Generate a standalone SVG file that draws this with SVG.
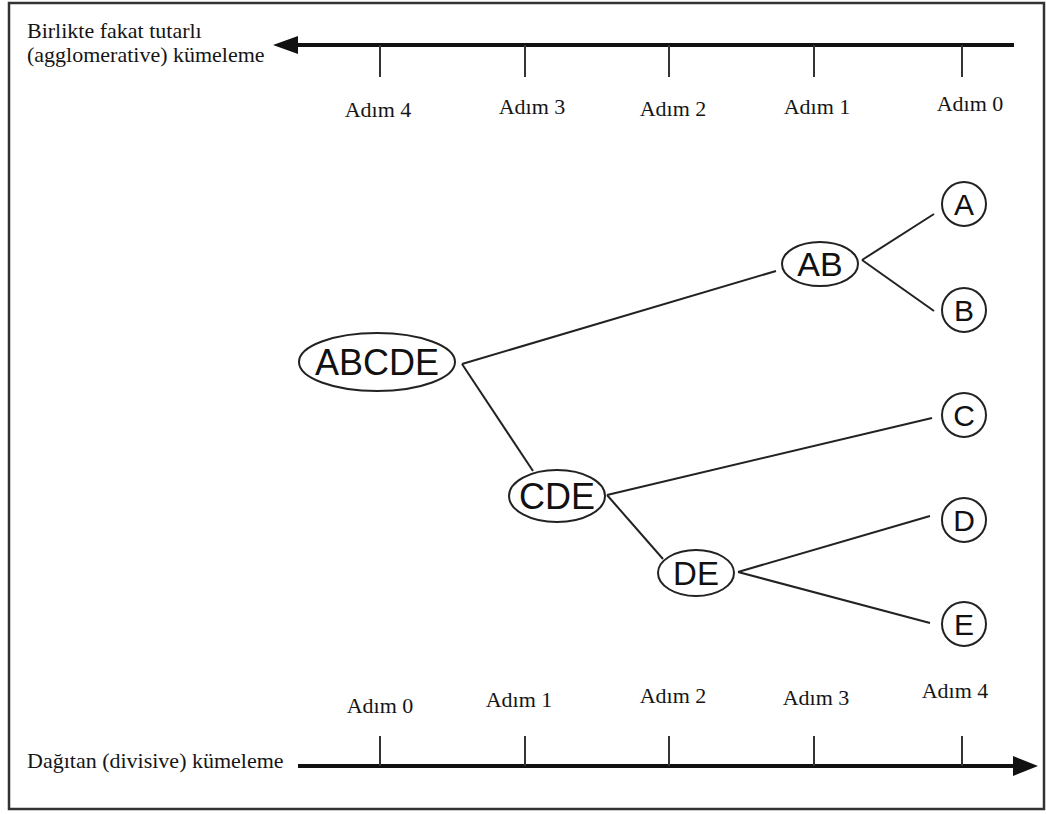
<svg xmlns="http://www.w3.org/2000/svg" width="1046" height="814" viewBox="0 0 1046 814">
<style>
.lbl{font-family:"Liberation Serif","Times New Roman",serif;font-size:22px;fill:#151515}
.step{font-family:"Liberation Serif","Times New Roman",serif;font-size:22px;fill:#151515;text-anchor:middle}
.nt{font-family:"Liberation Sans",Arial,sans-serif;fill:#111;text-anchor:middle}
.shape{fill:#fff;stroke:#222;stroke-width:2}
.edge{stroke:#222;stroke-width:2;fill:none}
.axis{stroke:#111;stroke-width:4;fill:none}
.tick{stroke:#333;stroke-width:2}
</style>
<rect x="0" y="0" width="1046" height="814" fill="#fff"/>
<rect x="9" y="3" width="1035" height="806" fill="none" stroke="#333" stroke-width="2.5"/>

<g id="top-axis">
<text class="lbl" x="27" y="38">Birlikte fakat tutarlı</text>
<text class="lbl" x="27" y="62">(agglomerative) kümeleme</text>
<line class="axis" x1="296" y1="45" x2="1014" y2="45"/>
<polygon points="273,45 298,36 298,54" fill="#111"/>
<line class="tick" x1="380" y1="45" x2="380" y2="77"/>
<line class="tick" x1="525" y1="45" x2="525" y2="77"/>
<line class="tick" x1="669" y1="45" x2="669" y2="77"/>
<line class="tick" x1="814" y1="45" x2="814" y2="77"/>
<line class="tick" x1="962" y1="45" x2="962" y2="77"/>
<text class="step" x="378" y="117">Adım 4</text>
<text class="step" x="532" y="114">Adım 3</text>
<text class="step" x="673" y="116">Adım 2</text>
<text class="step" x="817" y="114">Adım 1</text>
<text class="step" x="970" y="111">Adım 0</text>
</g>

<g id="bottom-axis">
<text class="lbl" x="27" y="768">Dağıtan (divisive) kümeleme</text>
<line class="axis" x1="298" y1="766" x2="1015" y2="766"/>
<polygon points="1038,766 1013,756 1013,776" fill="#111"/>
<line class="tick" x1="380" y1="736" x2="380" y2="766"/>
<line class="tick" x1="525" y1="736" x2="525" y2="766"/>
<line class="tick" x1="669" y1="736" x2="669" y2="766"/>
<line class="tick" x1="814" y1="736" x2="814" y2="766"/>
<line class="tick" x1="962" y1="736" x2="962" y2="766"/>
<text class="step" x="380" y="713">Adım 0</text>
<text class="step" x="519" y="707">Adım 1</text>
<text class="step" x="673" y="703">Adım 2</text>
<text class="step" x="816" y="705">Adım 3</text>
<text class="step" x="955" y="698">Adım 4</text>
</g>

<g id="connectors">
<line class="edge" x1="462" y1="364" x2="776" y2="271"/>
<line class="edge" x1="462" y1="364" x2="533" y2="471"/>
<line class="edge" x1="862" y1="260" x2="934" y2="214"/>
<line class="edge" x1="862" y1="260" x2="934" y2="311"/>
<line class="edge" x1="607" y1="495" x2="932" y2="418"/>
<line class="edge" x1="607" y1="495" x2="663" y2="559"/>
<line class="edge" x1="738" y1="572" x2="930" y2="516"/>
<line class="edge" x1="738" y1="572" x2="930" y2="623"/>
</g>

<g id="node-ABCDE">
<ellipse class="shape" cx="377" cy="362" rx="78" ry="29"/>
<text class="nt" x="377" y="375" font-size="36">ABCDE</text>
</g>
<g id="node-AB">
<ellipse class="shape" cx="820" cy="264" rx="38" ry="22"/>
<text class="nt" x="820" y="276" font-size="34">AB</text>
</g>
<g id="node-CDE">
<ellipse class="shape" cx="557" cy="496" rx="48" ry="26"/>
<text class="nt" x="557" y="509" font-size="36">CDE</text>
</g>
<g id="node-DE">
<ellipse class="shape" cx="696" cy="573" rx="38" ry="23"/>
<text class="nt" x="696" y="585" font-size="33">DE</text>
</g>
<g id="node-A">
<circle class="shape" cx="964" cy="204" r="22"/>
<text class="nt" x="964" y="215" font-size="30">A</text>
</g>
<g id="node-B">
<circle class="shape" cx="964" cy="310" r="22"/>
<text class="nt" x="964" y="321" font-size="30">B</text>
</g>
<g id="node-C">
<circle class="shape" cx="964" cy="415" r="22"/>
<text class="nt" x="964" y="426" font-size="30">C</text>
</g>
<g id="node-D">
<circle class="shape" cx="964" cy="520" r="22"/>
<text class="nt" x="964" y="531" font-size="30">D</text>
</g>
<g id="node-E">
<circle class="shape" cx="964" cy="624" r="22"/>
<text class="nt" x="964" y="635" font-size="30">E</text>
</g>
</svg>
